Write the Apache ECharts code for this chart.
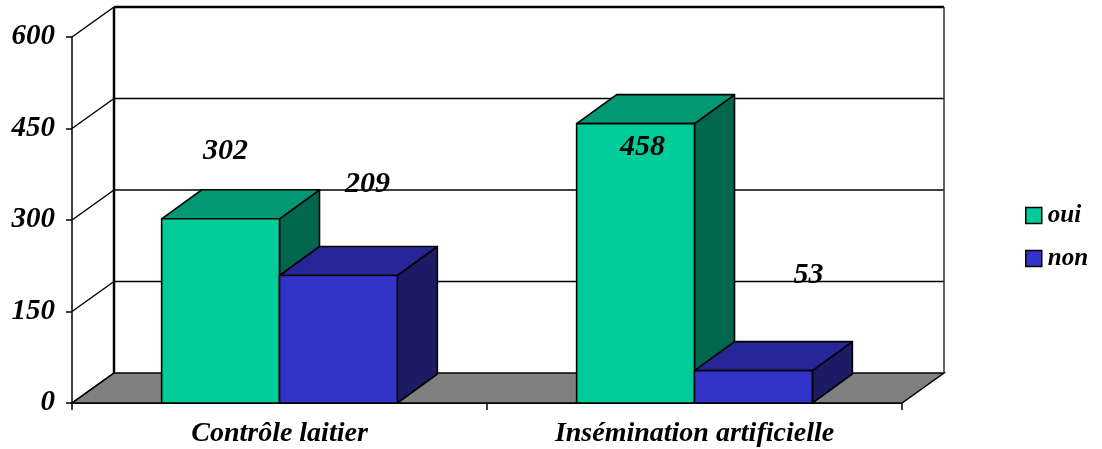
<!DOCTYPE html>
<html>
<head>
<meta charset="utf-8">
<script src="https://cdn.jsdelivr.net/npm/echarts@6/dist/echarts.min.js"></script>
<style>
  html, body { margin: 0; padding: 0; background: #fff; }
  #chart { width: 1102px; height: 449px; }
</style>
</head>
<body>
<div id="chart"></div>
<script>
// ---- data ----
const categories = ['Contrôle laitier', 'Insémination artificielle'];
const seriesNames = ['oui', 'non'];
const ouiValues = [302, 458];
const nonValues = [209, 53];
const yTicks = [0, 150, 300, 450, 600];

// ---- styling ----
const FONT = 'Liberation Serif';
const WALL_DX = 42, WALL_DY = -30;   // depth of the box (back wall shift)
const BAR_DX = 40, BAR_DY = -29;     // depth of each bar
const BAR_FRACTION = 0.284;          // bar width as a share of the category band
const faces = {
  oui: { front: '#00CC99', top: '#009973', side: '#00664D' },
  non: { front: '#3333CC', top: '#262699', side: '#1C1C66' }
};
// label placement, relative to the top-centre of each bar's front face
const labelNudge = {
  oui: [[5, -68], [7, 24]],
  non: [[29, -91], [55, -95]]
};

const chart = echarts.init(document.getElementById('chart'), null, { renderer: 'canvas' });

function wallsRender(params, api) {
  const cs = params.coordSys;
  const xL = cs.x, xR = cs.x + cs.width;
  const y0 = api.coord([0, 0])[1];
  const children = [];
  // floor
  children.push({
    type: 'polygon',
    shape: { points: [[xL, y0], [xR, y0], [xR + WALL_DX, y0 + WALL_DY], [xL + WALL_DX, y0 + WALL_DY]] },
    style: { fill: '#808080', stroke: '#000', lineWidth: 1.5 }
  });
  yTicks.forEach(function (v, i) {
    const y = api.coord([0, v])[1];
    const top = i === yTicks.length - 1;
    // gridline on the back wall
    if (v > 0) {
      children.push({
        type: 'line',
        shape: { x1: xL + WALL_DX, y1: y + WALL_DY, x2: xR + WALL_DX, y2: y + WALL_DY },
        style: { stroke: '#000', lineWidth: top ? 2.5 : 1.5 }
      });
    }
    // gridline across the side wall
    children.push({
      type: 'line',
      shape: { x1: xL, y1: y, x2: xL + WALL_DX, y2: y + WALL_DY },
      style: { stroke: '#000', lineWidth: 1.5 }
    });
  });
  const yTop = api.coord([0, yTicks[yTicks.length - 1]])[1];
  // back wall edges
  children.push({
    type: 'line',
    shape: { x1: xL + WALL_DX, y1: yTop + WALL_DY, x2: xL + WALL_DX, y2: y0 + WALL_DY },
    style: { stroke: '#000', lineWidth: 2.5 }
  });
  children.push({
    type: 'line',
    shape: { x1: xR + WALL_DX, y1: yTop + WALL_DY, x2: xR + WALL_DX, y2: y0 + WALL_DY },
    style: { stroke: '#333', lineWidth: 1.5 }
  });
  return { type: 'group', children: children };
}

function makeBarRender(name, side) {
  const col = faces[name];
  return function (params, api) {
    const idx = api.value(0);
    const val = api.value(1);
    const topPt = api.coord([idx, val]);
    const basePt = api.coord([idx, 0]);
    const bw = api.size([1, 0])[0] * BAR_FRACTION;
    const cx = topPt[0];
    const x0 = side < 0 ? cx - bw : cx;
    const x1 = x0 + bw;
    const yt = topPt[1], yb = basePt[1];
    const stroke = { stroke: '#000', lineWidth: 1.6, lineJoin: 'round' };
    const nudge = labelNudge[name][params.dataIndex];
    return {
      type: 'group',
      children: [
        {
          type: 'polygon',
          shape: { points: [[x1, yt], [x1 + BAR_DX, yt + BAR_DY], [x1 + BAR_DX, yb + BAR_DY], [x1, yb]] },
          style: Object.assign({ fill: col.side }, stroke)
        },
        {
          type: 'polygon',
          shape: { points: [[x0, yt], [x1, yt], [x1 + BAR_DX, yt + BAR_DY], [x0 + BAR_DX, yt + BAR_DY]] },
          style: Object.assign({ fill: col.top }, stroke)
        },
        {
          type: 'rect',
          shape: { x: x0, y: yt, width: bw, height: yb - yt },
          style: Object.assign({ fill: col.front }, stroke)
        },
        {
          type: 'text',
          x: (x0 + x1) / 2 + nudge[0],
          y: yt + nudge[1],
          style: {
            text: String(val),
            fill: '#000',
            font: 'italic bold 30px "' + FONT + '"',
            align: 'center',
            verticalAlign: 'middle'
          }
        }
      ]
    };
  };
}

const ouiData = ouiValues.map(function (v, i) { return [i, v]; });
const nonData = nonValues.map(function (v, i) { return [i, v]; });

chart.setOption({
  animation: false,
  backgroundColor: '#fff',
  grid: { left: 72, right: 200, top: 37, bottom: 46 },
  legend: {
    orient: 'vertical',
    left: 1025,
    top: 203,
    padding: 0,
    itemWidth: 16,
    itemHeight: 16,
    itemGap: 18,
    icon: 'rect',
    data: [
      { name: 'oui', itemStyle: { color: faces.oui.front, borderColor: '#000', borderWidth: 1.5 } },
      { name: 'non', itemStyle: { color: faces.non.front, borderColor: '#000', borderWidth: 1.5 } }
    ],
    textStyle: { fontFamily: FONT, fontStyle: 'italic', fontWeight: 'bold', fontSize: 25, color: '#000', padding: [0, 0, 0, 1] }
  },
  xAxis: {
    type: 'category',
    data: categories,
    axisLine: { lineStyle: { color: '#000', width: 2 } },
    axisTick: { show: true, length: 7, lineStyle: { color: '#000', width: 1.5 } },
    axisLabel: {
      margin: 17,
      color: '#000',
      fontFamily: FONT,
      fontStyle: 'italic',
      fontWeight: 'bold',
      fontSize: 28
    },
    splitLine: { show: false }
  },
  yAxis: {
    type: 'value',
    min: 0,
    max: 600,
    interval: 150,
    axisLine: { show: true, lineStyle: { color: '#000', width: 1.5 } },
    axisTick: { show: true, length: 6, lineStyle: { color: '#000', width: 1.5 } },
    axisLabel: {
      margin: 17,
      color: '#000',
      fontFamily: FONT,
      fontStyle: 'italic',
      fontWeight: 'bold',
      fontSize: 29
    },
    splitLine: { show: false }
  },
  series: [
    {
      type: 'custom',
      name: 'walls',
      z: 1,
      silent: true,
      renderItem: wallsRender,
      data: [[0, 0]],
      encode: { x: 0, y: 1 }
    },
    {
      type: 'custom',
      name: 'oui',
      z: 2,
      itemStyle: { color: faces.oui.front },
      renderItem: makeBarRender('oui', -1),
      data: ouiData,
      encode: { x: 0, y: 1 }
    },
    {
      type: 'custom',
      name: 'non',
      z: 3,
      itemStyle: { color: faces.non.front },
      renderItem: makeBarRender('non', 1),
      data: nonData,
      encode: { x: 0, y: 1 }
    }
  ]
});
</script>
</body>
</html>
